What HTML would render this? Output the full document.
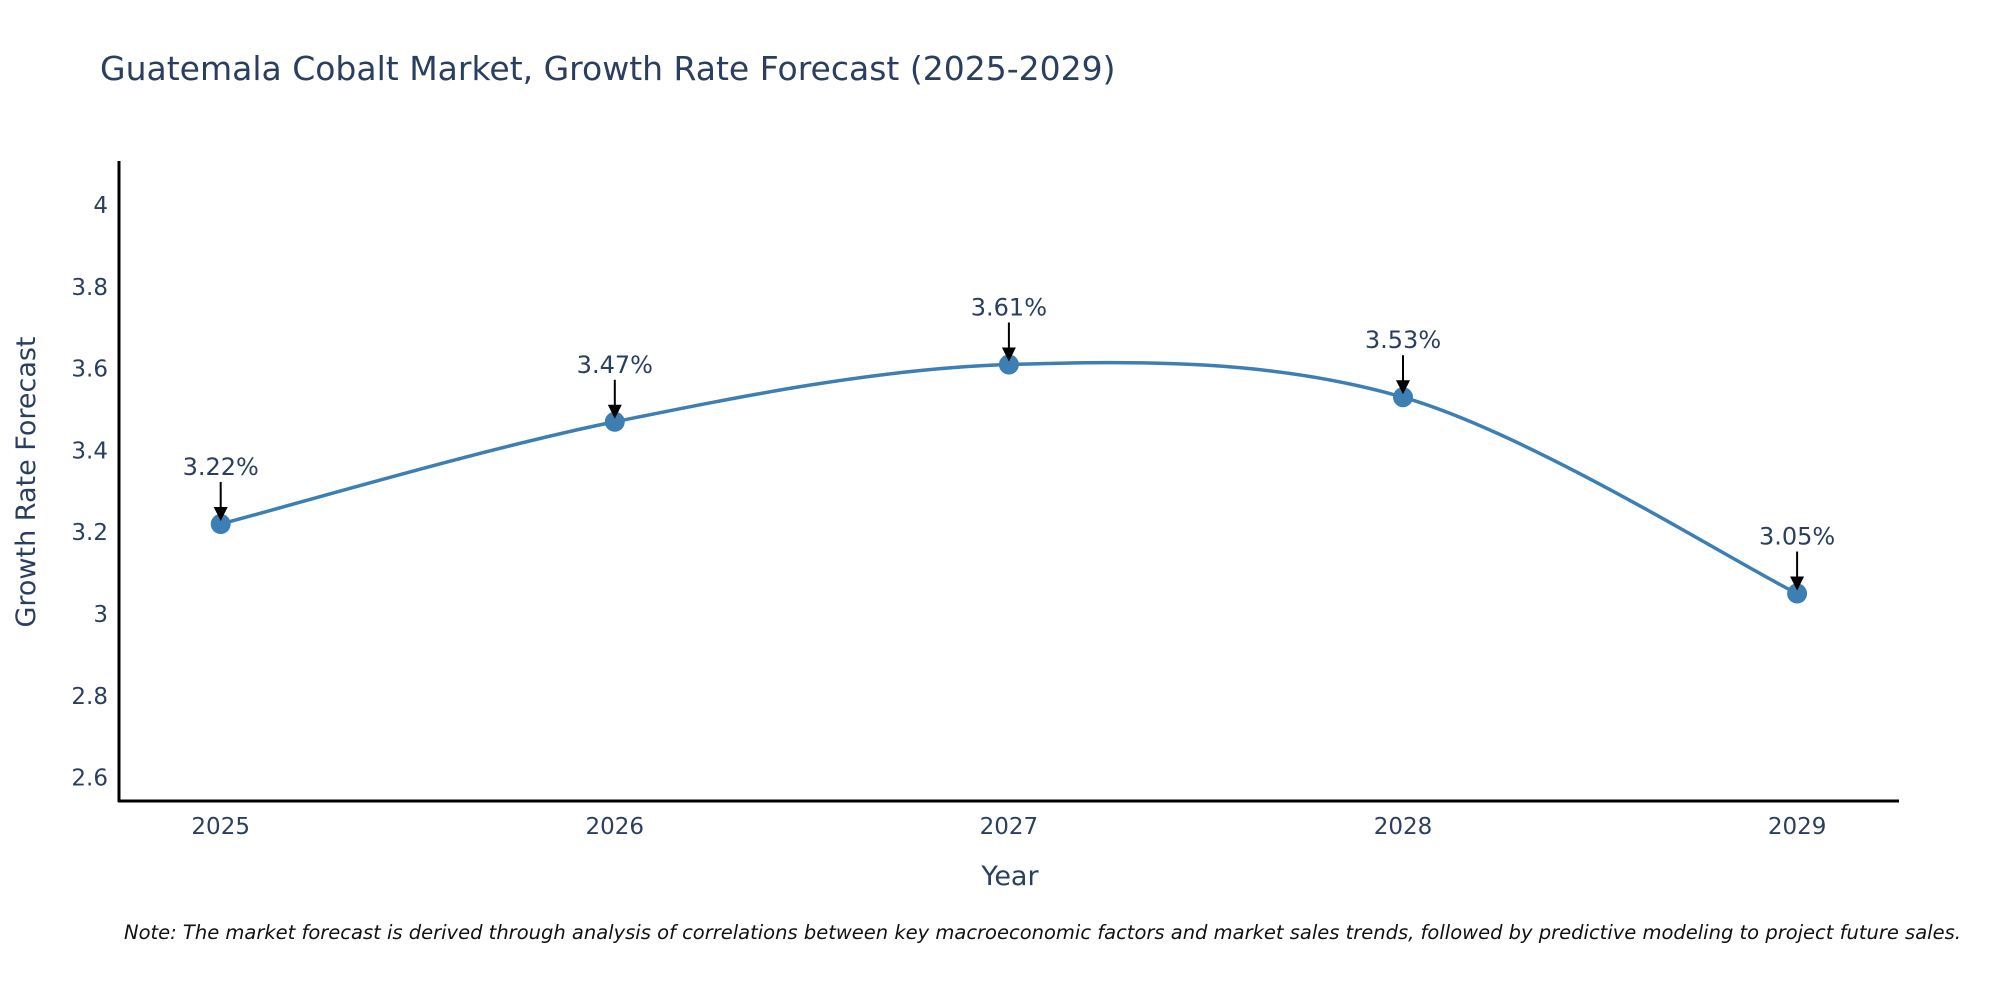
<!DOCTYPE html>
<html><head><meta charset="utf-8"><style>
body{margin:0;background:#fff;}
svg text{font-family:"DejaVu Sans","Liberation Sans",sans-serif;fill:#2a3f5f;}
</style></head><body>
<svg id="chart" width="2000" height="1000" xmlns="http://www.w3.org/2000/svg">
<text x="100" y="80" font-size="33">Guatemala Cobalt Market, Growth Rate Forecast (2025-2029)</text>
<g id="yticks"></g>
<g id="xticks"></g>
<line x1="119" y1="161" x2="119" y2="802" stroke="#000" stroke-width="3"/>
<line x1="118" y1="801" x2="1899" y2="801" stroke="#000" stroke-width="3"/>
<path id="series" fill="none" stroke="#3d7fb2" stroke-width="3.5"/>
<g id="points"></g>
<g id="annots"></g>
<text x="1010" y="885" font-size="27" text-anchor="middle">Year</text>
<text transform="translate(35,482) rotate(-90)" font-size="27" text-anchor="middle">Growth Rate Forecast</text>
<text x="124" y="939" font-size="19.5" font-style="italic" style="fill:#111">Note: The market forecast is derived through analysis of correlations between key macroeconomic factors and market sales trends, followed by predictive modeling to project future sales.</text>
</svg>
<script>
const years = [2025, 2026, 2027, 2028, 2029];
const values = [3.22, 3.47, 3.61, 3.53, 3.05];
const labels = ["3.22%", "3.47%", "3.61%", "3.53%", "3.05%"];
const yTicks = [2.6, 2.8, 3, 3.2, 3.4, 3.6, 3.8, 4];
const yTickLabels = ["2.6", "2.8", "3", "3.2", "3.4", "3.6", "3.8", "4"];

const NS = "http://www.w3.org/2000/svg";
function xs(yr){ return 220.7 + (yr - 2025) * 394.1; }
function ys(v){ return 614 - (v - 3) * 409; }
function mk(tag, attrs, parent){
  const e = document.createElementNS(NS, tag);
  for (const k in attrs) e.setAttribute(k, attrs[k]);
  parent.appendChild(e); return e;
}
const yg = document.getElementById('yticks');
yTicks.forEach((t, i) => {
  const e = mk('text', {x: 108, y: ys(t) + 8, 'font-size': 23, 'text-anchor': 'end'}, yg);
  
  
  e.textContent = yTickLabels[i];
});
const xg = document.getElementById('xticks');
years.forEach(yr => {
  const e = mk('text', {x: xs(yr), y: 834, 'font-size': 23, 'text-anchor': 'middle'}, xg);
  
  
  e.textContent = String(yr);
});
const pts = years.map((yr, i) => [xs(yr), ys(values[i])]);
let d = `M${pts[0][0]},${pts[0][1]}`;
const s = 0.33;
for (let i = 0; i < pts.length - 1; i++) {
  const p0 = pts[Math.max(0, i - 1)], p1 = pts[i], p2 = pts[i + 1], p3 = pts[Math.min(pts.length - 1, i + 2)];
  const c1 = [p1[0] + (p2[0] - p0[0]) * s / 2, p1[1] + (p2[1] - p0[1]) * s / 2];
  const c2 = [p2[0] - (p3[0] - p1[0]) * s / 2, p2[1] - (p3[1] - p1[1]) * s / 2];
  d += ` C${c1[0]},${c1[1]} ${c2[0]},${c2[1]} ${p2[0]},${p2[1]}`;
}
document.getElementById('series').setAttribute('d', d);
const pg = document.getElementById('points');
const ag = document.getElementById('annots');
pts.forEach((p, i) => {
  const c = mk('circle', {cx: p[0], cy: p[1], r: 10, fill: '#3d7fb2'}, pg);
  
  
  const l = mk('line', {x1: p[0], y1: p[1] - 42, x2: p[0], y2: p[1] - 14, stroke: '#000', 'stroke-width': 2}, ag);
  
  
  const h = mk('path', {d: `M${p[0]-7},${p[1]-17} L${p[0]+7},${p[1]-17} L${p[0]},${p[1]-3} Z`, fill: '#000'}, ag);
  
  
  const t = mk('text', {x: p[0], y: p[1] - 49, 'font-size': 24, 'text-anchor': 'middle'}, ag);
  
  
  t.textContent = labels[i];
});
</script>
</body></html>
